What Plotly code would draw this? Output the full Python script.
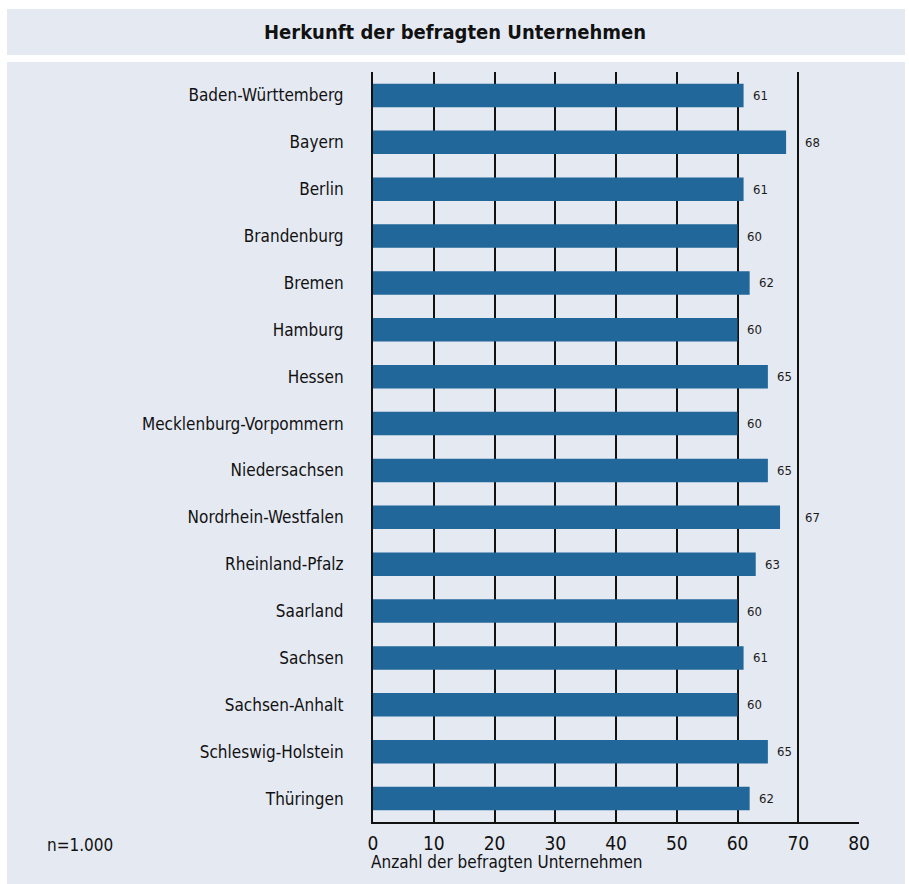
import plotly.graph_objects as go

# Survey: origin of the companies interviewed, by federal state
states = [
    "Baden-Württemberg", "Bayern", "Berlin", "Brandenburg", "Bremen",
    "Hamburg", "Hessen", "Mecklenburg-Vorpommern", "Niedersachsen",
    "Nordrhein-Westfalen", "Rheinland-Pfalz", "Saarland", "Sachsen",
    "Sachsen-Anhalt", "Schleswig-Holstein", "Thüringen",
]
companies = [61, 68, 61, 60, 62, 60, 65, 60, 65, 67, 63, 60, 61, 60, 65, 62]
x_ticks = [0, 10, 20, 30, 40, 50, 60, 70, 80]

TITLE = "Herkunft der befragten Unternehmen"
X_TITLE = "Anzahl der befragten Unternehmen"
NOTE = "n=1.000"

FONT = "'DejaVu Sans Condensed', 'Roboto Condensed', 'Arial Narrow', sans-serif"
PANEL = "#E5E9F2"
BAR = "#21679A"

W, H = 909, 884
L, R, T, B = 373, 50, 72, 62
PW, PH = W - L - R, H - T - B


def px_x(px):
    return (px - L) / PW


def px_y(py):
    return (H - B - py) / PH


fig = go.Figure()
fig.add_trace(go.Bar(
    y=states, x=companies, orientation="h",
    marker=dict(color=BAR, line=dict(width=0)),
    width=0.5, hoverinfo="x+y",
))

# value labels; push them past the 70 gridline when they would overlap it
for s, v in zip(states, companies):
    if v >= 66:
        xa, shift = 70, 5
    else:
        xa, shift = v, 7
    fig.add_annotation(
        x=xa, y=s, xref="x", yref="y", text=str(v), showarrow=False,
        xanchor="left", yanchor="middle", xshift=shift,
        font=dict(family=FONT, size=13, color="#1a1a1a"),
    )

# background panels
fig.add_shape(type="rect", xref="paper", yref="paper",
              x0=px_x(7), x1=px_x(905), y0=px_y(55), y1=px_y(9),
              fillcolor=PANEL, line=dict(width=0), layer="below")
fig.add_shape(type="rect", xref="paper", yref="paper",
              x0=px_x(7), x1=px_x(905), y0=px_y(884), y1=px_y(62),
              fillcolor=PANEL, line=dict(width=0), layer="below")

fig.add_annotation(
    x=px_x(455), y=px_y(32), xref="paper", yref="paper", text=f"<b>{TITLE}</b>",
    showarrow=False, xanchor="center", yanchor="middle",
    font=dict(family=FONT, size=20, color="#111111"),
)
fig.add_annotation(
    x=0, y=px_y(862), xref="paper", yref="paper", text=X_TITLE,
    showarrow=False, xanchor="left", yanchor="middle", xshift=-4,
    font=dict(family=FONT, size=17, color="#111111"),
)
fig.add_annotation(
    x=px_x(45), y=px_y(845), xref="paper", yref="paper", text=NOTE,
    showarrow=False, xanchor="left", yanchor="middle",
    font=dict(family=FONT, size=17, color="#111111"),
)

fig.update_layout(
    width=W, height=H,
    margin=dict(l=L, r=R, t=T, b=B, autoexpand=False),
    paper_bgcolor="white", plot_bgcolor=PANEL,
    showlegend=False, bargap=0.5,
    font=dict(family=FONT, color="#111111"),
    xaxis=dict(
        range=[0, 80], tickvals=x_ticks, ticks="", showgrid=True,
        gridcolor="#111111", gridwidth=1.5, zeroline=False,
        showline=True, linecolor="#111111", linewidth=2,
        tickfont=dict(family=FONT, size=19), ticklabelstandoff=3,
        fixedrange=True,
    ),
    yaxis=dict(
        categoryorder="array", categoryarray=states, autorange="reversed",
        ticks="", showgrid=False, zeroline=False, showline=True,
        linecolor="#111111", linewidth=2,
        tickfont=dict(family=FONT, size=17), ticklabelstandoff=24,
        fixedrange=True,
    ),
)

fig.write_html("out.html")
